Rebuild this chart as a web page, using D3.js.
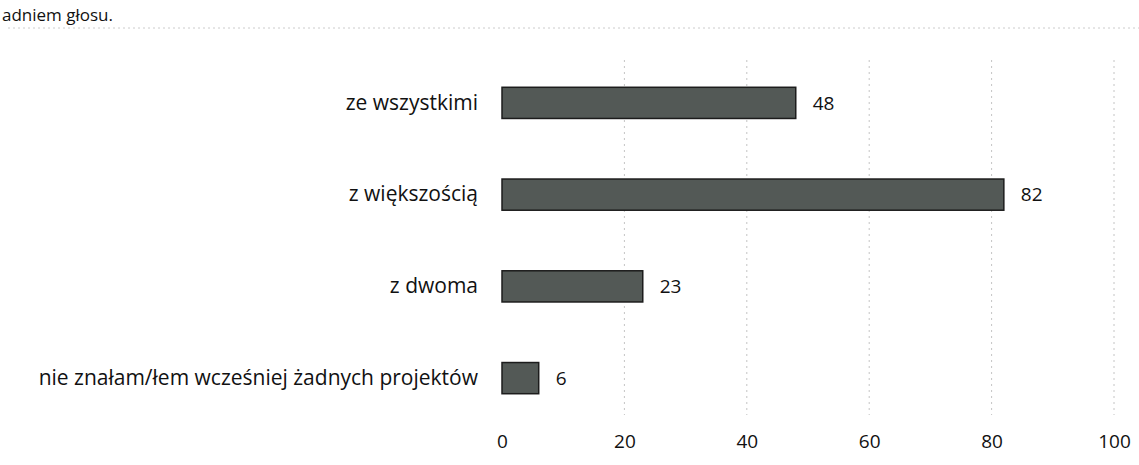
<!DOCTYPE html>
<html>
<head>
<meta charset="utf-8">
<script src="https://cdn.jsdelivr.net/npm/d3@7"></script>
<style>
  body { margin: 0; background: #fff; }
  svg { display: block; }
</style>
</head>
<body>
<svg id="chart" width="1139" height="465"></svg>
<script>
// data
var categories = ["ze wszystkimi", "z większością", "z dwoma", "nie znałam/łem wcześniej żadnych projektów"];
var values = [48, 82, 23, 6];
var tickValues = [0, 20, 40, 60, 80, 100];

var svg = d3.select("#chart"),
    width = 1139,
    height = 465;

var font = "'Open Sans', 'Liberation Sans', sans-serif";

// heading from the page above the chart
svg.append("text")
    .attr("x", 2)
    .attr("y", 21)
    .attr("font-family", font)
    .attr("font-size", 17)
    .attr("fill", "#111")
    .text("adniem głosu.");

// faint dotted frame line at top
svg.append("line")
    .attr("x1", 8).attr("x2", 1139)
    .attr("y1", 28).attr("y2", 28)
    .attr("stroke", "#cccccc")
    .attr("stroke-dasharray", "2,3")
    .attr("stroke-width", 1);

var x = d3.scaleLinear()
    .domain([0, 100])
    .range([502, 1114]);

var y = d3.scaleBand()
    .domain(categories)
    .range([57, 424])
    .paddingInner(0.66)
    .paddingOuter(0.33);

// gridlines
svg.append("g")
    .selectAll("line")
    .data(tickValues.slice(1))
    .join("line")
    .attr("x1", function (d) { return x(d); })
    .attr("x2", function (d) { return x(d); })
    .attr("y1", 60)
    .attr("y2", 415)
    .attr("stroke", "#c4c4c4")
    .attr("stroke-dasharray", "2,4")
    .attr("stroke-width", 1);

// bars
svg.append("g")
    .selectAll("rect")
    .data(values)
    .join("rect")
    .attr("x", x(0))
    .attr("y", function (d, i) { return y(categories[i]); })
    .attr("width", function (d) { return x(d) - x(0); })
    .attr("height", y.bandwidth())
    .attr("fill", "#535956")
    .attr("stroke", "#1c1c1c")
    .attr("stroke-width", 1.5);

// value labels
svg.append("g")
    .selectAll("text")
    .data(values)
    .join("text")
    .attr("x", function (d) { return x(d) + 17; })
    .attr("y", function (d, i) { return y(categories[i]) + y.bandwidth() / 2; })
    .attr("dy", "0.35em")
    .attr("font-family", font)
    .attr("font-size", 19)
    .attr("fill", "#111")
    .text(function (d) { return d; });

// category axis
var yAxis = svg.append("g")
    .attr("transform", "translate(" + (x(0) - 24) + ",0)")
    .call(d3.axisLeft(y).tickSize(0).tickPadding(0));
yAxis.select(".domain").remove();
yAxis.selectAll("text")
    .attr("font-family", font)
    .attr("font-size", 21)
    .attr("fill", "#111");

// value axis
var xAxis = svg.append("g")
    .attr("transform", "translate(0,434)")
    .call(d3.axisBottom(x).tickValues(tickValues).tickSize(0).tickPadding(0));
xAxis.select(".domain").remove();
xAxis.selectAll("text")
    .attr("font-family", font)
    .attr("font-size", 19)
    .attr("fill", "#111");
</script>
</body>
</html>
